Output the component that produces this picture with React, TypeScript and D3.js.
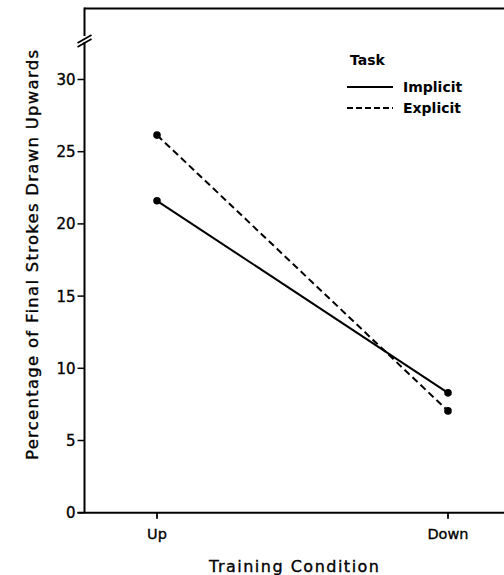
import React from "react";
import * as d3 from "d3";

const categories = ["Up", "Down"];
const implicitValues = [21.6, 8.3];
const explicitValues = [26.15, 7.05];
const yTicks = [0, 5, 10, 15, 20, 25, 30];
const seriesNames = ["Implicit", "Explicit"];

const W = 504;
const H = 575;
const FONT = "'DejaVu Sans', sans-serif";

export default function App() {
  const x = d3.scalePoint<string>().domain(categories).range([157, 448]);
  const y = d3.scaleLinear().domain([0, 30]).range([512.7, 79.5]);
  const axisX = 84.5;
  const topY = 8.5;
  const line = d3
    .line<number>()
    .x((_, i) => x(categories[i]) as number)
    .y((d) => y(d));
  const series = [
    { name: seriesNames[0], values: implicitValues, dash: "none" },
    { name: seriesNames[1], values: explicitValues, dash: "7,4" },
  ];
  const heavy = { stroke: "#000", strokeWidth: 0.35 };
  return (
    <svg
      width={W}
      height={H}
      style={{ position: "absolute", left: 0, top: 0, background: "#fff" }}
      fontFamily={FONT}
    >
      {/* frame */}
      <line x1={axisX} x2={W} y1={topY} y2={topY} stroke="#000" strokeWidth={2} />
      <line x1={axisX} x2={axisX} y1={topY - 1} y2={y(0)} stroke="#000" strokeWidth={2} />
      <line x1={axisX - 7} x2={W} y1={y(0)} y2={y(0)} stroke="#000" strokeWidth={2} />
      {/* axis break */}
      <rect x={axisX - 3} y={36} width={6} height={6} fill="#fff" />
      <line x1={axisX - 7} x2={axisX + 7} y1={43} y2={35} stroke="#000" strokeWidth={1.8} />
      <line x1={axisX - 7} x2={axisX + 7} y1={47} y2={39} stroke="#000" strokeWidth={1.8} />
      {/* y ticks */}
      {yTicks.map((t) => (
        <g key={t}>
          <line x1={axisX - 7} x2={axisX} y1={y(t)} y2={y(t)} stroke="#000" strokeWidth={1.5} />
          <text
            x={axisX - 9}
            y={y(t)}
            dy="0.36em"
            textAnchor="end"
            fontSize={15}
            {...heavy}
          >
            {t}
          </text>
        </g>
      ))}
      {/* x ticks */}
      {categories.map((c) => (
        <g key={c}>
          <line x1={x(c)} x2={x(c)} y1={y(0)} y2={y(0) + 6} stroke="#000" strokeWidth={1.8} />
          <text x={x(c)} y={539} textAnchor="middle" fontSize={14.5} {...heavy}>
            {c}
          </text>
        </g>
      ))}
      {/* series */}
      {series.map((s) => (
        <g key={s.name}>
          <path d={line(s.values) || ""} fill="none" stroke="#000" strokeWidth={2} strokeDasharray={s.dash} />
          {s.values.map((v, i) => (
            <circle key={i} cx={x(categories[i])} cy={y(v)} r={3.8} fill="#000" />
          ))}
        </g>
      ))}
      {/* legend */}
      <text x={350} y={65} fontSize={14} fontWeight="bold">
        Task
      </text>
      {series.map((s, i) => (
        <g key={s.name}>
          <line
            x1={347}
            x2={393}
            y1={87 + i * 21}
            y2={87 + i * 21}
            stroke="#000"
            strokeWidth={2}
            strokeDasharray={s.dash === "none" ? "none" : "6,3"}
          />
          <text x={403} y={92 + i * 21} fontSize={14} fontWeight="bold">
            {s.name}
          </text>
        </g>
      ))}
      {/* axis titles */}
      <text
        transform="translate(38,255) rotate(-90)"
        textAnchor="middle"
        fontSize={16.5}
        textLength={410}
        lengthAdjust="spacing"
        {...heavy}
      >
        Percentage of Final Strokes Drawn Upwards
      </text>
      <text
        x={294}
        y={572}
        textAnchor="middle"
        fontSize={16}
        textLength={170}
        lengthAdjust="spacing"
        {...heavy}
      >
        Training Condition
      </text>
    </svg>
  );
}
